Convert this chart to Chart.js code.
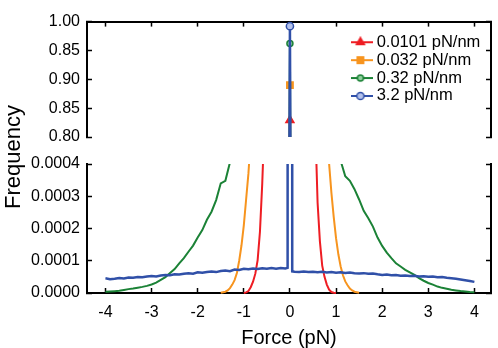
<!DOCTYPE html>
<html>
<head>
<meta charset="utf-8">
<script src="https://cdn.jsdelivr.net/npm/chart.js@4.4.0/dist/chart.umd.min.js"></script>
<style>
  html, body { margin: 0; padding: 0; background: #fff; }
  .wrap { position: relative; width: 498px; height: 348px; }
  .wrap canvas { position: absolute; left: 0; top: 0; }
  .ytitle {
    position: absolute; left: -59px; top: 146px; width: 140px; height: 22px;
    line-height: 22px; text-align: center; transform: rotate(-90deg);
    font: 22px 'Liberation Sans', Arial, sans-serif; color: #000;
  }
</style>
</head>
<body>
<div class="wrap">
  <canvas id="lowChart" width="498" height="348"></canvas>
  <canvas id="topChart" width="498" height="348"></canvas>
  <div class="ytitle">Frequency</div>
</div>
<script>
// series labels and colours
const seriesNames = ['0.0101 pN/nm', '0.032 pN/nm', '0.32 pN/nm', '3.2 pN/nm']
const seriesColors = ['#ee1d23', '#f7941e', '#1b8236', '#3050a8']

// tick labels
const forceTicks = [-4, -3, -2, -1, 0, 1, 2, 3, 4]
const topTicks = [0.80, 0.85, 0.90, 0.95, 1.00]
const topTickLabels = ['0.80', '0.85', '0.90', '0.85', '1.00']
const lowTicks = [0, 0.0001, 0.0002, 0.0003, 0.0004]

// 0.0101 pN/nm
const redForce = [-1, -0.95, -0.9, -0.85, -0.8, -0.75, -0.7, -0.65, -0.6, -0.55, -0.5,
  -0.4, -0.3, -0.2, -0.1, -0.05, 0, 0.05, 0.1, 0.2, 0.3, 0.4, 0.5,
  0.55, 0.6, 0.65, 0.7, 0.75, 0.8, 0.85, 0.9, 0.95, 1]
const redFreq = [0, 0.000002, 0.000006, 0.000018, 0.000035, 0.000060, 0.000102, 0.00019, 0.00034, 0.00054, 0.0009,
  0.0024, 0.0058, 0.012, 0.022, 0.028, 0.829, 0.027, 0.021, 0.0115, 0.0056, 0.0023, 0.0009,
  0.00052, 0.00028, 0.00016, 0.000085, 0.00005, 0.000026, 0.00001, 0.000003, 0.000001, 0]

// 0.032 pN/nm
const orangeForce = [-1.5, -1.4, -1.35, -1.3, -1.25, -1.2, -1.15, -1.1, -1.05, -1,
  -0.95, -0.9, -0.85, -0.8, -0.75, -0.7, -0.6, -0.5, -0.4, -0.3, -0.2, -0.1, -0.05,
  0, 0.05, 0.1, 0.2, 0.3, 0.4, 0.5, 0.6, 0.7, 0.75, 0.8, 0.85, 0.9, 0.95, 1,
  1.05, 1.1, 1.15, 1.2, 1.25, 1.3, 1.35, 1.4, 1.5]
const orangeFreq = [0.000001, 0.000004, 0.000008, 0.000015, 0.000026, 0.000040, 0.000062, 0.000100, 0.000148, 0.000210,
  0.000290, 0.000370, 0.00048, 0.00062, 0.0008, 0.001, 0.0016, 0.0025, 0.0038, 0.0055, 0.0075, 0.0095, 0.0105,
  0.89, 0.0104, 0.0094, 0.0074, 0.0054, 0.0037, 0.0024, 0.0015, 0.00095, 0.00075, 0.00056, 0.00040, 0.00031, 0.000235, 0.000170,
  0.000120, 0.000082, 0.000055, 0.000036, 0.000024, 0.000014, 0.000008, 0.000004, 0.000001]

// shared bins for 0.32 and 3.2 pN/nm
const wideForce = [-4, -3.9, -3.8, -3.7, -3.6, -3.5, -3.4, -3.3, -3.2, -3.1,
  -3, -2.9, -2.8, -2.7, -2.6, -2.5, -2.4, -2.3, -2.2, -2.1,
  -2, -1.9, -1.8, -1.7, -1.6, -1.5, -1.4, -1.3, -1.2, -1.1,
  -1, -0.9, -0.8, -0.7, -0.6, -0.5, -0.4, -0.3, -0.2, -0.1,
  -0.05, 0, 0.05,
  0.1, 0.2, 0.3, 0.4, 0.5, 0.6, 0.7, 0.8, 0.9, 1,
  1.1, 1.2, 1.3, 1.4, 1.5, 1.6, 1.7, 1.8, 1.9, 2,
  2.1, 2.2, 2.3, 2.4, 2.5, 2.6, 2.7, 2.8, 2.9, 3,
  3.1, 3.2, 3.3, 3.4, 3.5, 3.6, 3.7, 3.8, 3.9, 4]

// 0.32 pN/nm
const greenFreq = [0.0000035, 0.0000045, 0.0000058, 0.0000072, 0.0000095, 0.000012, 0.000014, 0.0000165, 0.000019, 0.000022,
  0.0000265, 0.000032, 0.0000405, 0.000049, 0.000062, 0.000074, 0.000092, 0.000108, 0.000128, 0.000147,
  0.000172, 0.000195, 0.000227, 0.000252, 0.000288, 0.00034, 0.000348, 0.000405, 0.00046, 0.00054,
  0.00063, 0.00075, 0.0009, 0.0011, 0.00135, 0.00165, 0.002, 0.0025, 0.0031, 0.0038,
  0.0042, 0.962, 0.0041,
  0.0036, 0.0029, 0.0023, 0.0018, 0.0014, 0.0011, 0.00088, 0.00071, 0.00058, 0.00048,
  0.00041, 0.000362, 0.000348, 0.000322, 0.00029, 0.000255, 0.000232, 0.000206, 0.000172, 0.000146,
  0.000125, 0.000108, 0.000092, 0.000082, 0.000072, 0.000064, 0.000056, 0.000046, 0.000038, 0.000031,
  0.000026, 0.00002, 0.000016, 0.000013, 0.00001, 0.000008, 0.000006, 0.0000045, 0.000003, 0.000002]

// 3.2 pN/nm
const blueFreq = [0.0000455, 0.000043, 0.000044, 0.0000462, 0.000045, 0.0000478, 0.000047, 0.0000495, 0.0000488, 0.000051,
  0.0000527, 0.0000515, 0.0000545, 0.000056, 0.0000548, 0.000058, 0.0000572, 0.00006, 0.0000612, 0.0000598,
  0.000064, 0.0000628, 0.0000652, 0.0000665, 0.0000648, 0.000068, 0.0000695, 0.0000678, 0.0000725, 0.0000715,
  0.0000748, 0.0000735, 0.0000758, 0.0000742, 0.0000765, 0.000075, 0.0000772, 0.0000755, 0.0000778, 0.0000762,
  0.000078, 0.992, 0.0000672,
  0.000066, 0.0000648, 0.0000664, 0.000065, 0.0000662, 0.0000646, 0.0000655, 0.0000638, 0.0000648, 0.000063,
  0.000064, 0.0000622, 0.0000632, 0.0000612, 0.0000605, 0.0000616, 0.0000595, 0.0000602, 0.000058, 0.0000562,
  0.0000572, 0.000055, 0.0000558, 0.0000538, 0.0000545, 0.0000528, 0.0000535, 0.0000515, 0.0000522, 0.0000505,
  0.0000512, 0.000049, 0.0000495, 0.000047, 0.0000458, 0.0000445, 0.000042, 0.0000398, 0.0000372, 0.0000345]


Chart.defaults.font.family = "'Liberation Sans', Arial, sans-serif"
Chart.defaults.color = '#000'

const pointLook = [
    { style: 'triangle', radius: 4.6, fill: seriesColors[0] },
    { style: 'rect', radius: 4.5, fill: seriesColors[1] },
    { style: 'circle', radius: 3, fill: '#8fcf9d' },
    { style: 'circle', radius: 3.6, fill: '#b4c2ec' }
]
const lineWidths = [2, 2, 2, 2.5]
const drawOrder = [3, 2, 1, 0]

function pts(xs, ys) {
    return xs.map((x, i) => ({ x: x, y: ys[i] }))
}

function makeSets(withMarkers) {
    const src = [[redForce, redFreq], [orangeForce, orangeFreq], [wideForce, greenFreq], [wideForce, blueFreq]]
    return src.map((s, i) => ({
        label: seriesNames[i],
        data: pts(s[0], s[1]),
        borderColor: seriesColors[i],
        backgroundColor: seriesColors[i],
        borderWidth: lineWidths[i],
        tension: 0,
        order: drawOrder[i],
        pointStyle: pointLook[i].style,
        pointBackgroundColor: pointLook[i].fill,
        pointBorderColor: seriesColors[i],
        pointBorderWidth: 1.5,
        pointRadius: c => (withMarkers && c.raw && c.raw.x === 0 ? pointLook[i].radius : 0),
        clip: withMarkers ? { left: 0, right: 0, top: 6, bottom: 0 } : { left: 0, right: 0, top: 0, bottom: 1 }
    }))
}

// small line + marker picture for each legend entry
function legendIcon(i) {
    const c = document.createElement('canvas')
    c.width = 26
    c.height = 12
    const g = c.getContext('2d')
    g.strokeStyle = seriesColors[i]
    g.lineWidth = 2
    g.beginPath()
    g.moveTo(0, 6)
    g.lineTo(26, 6)
    g.stroke()
    g.fillStyle = pointLook[i].fill
    g.lineWidth = 1.5
    const r = pointLook[i].radius
    g.beginPath()
    if (pointLook[i].style === 'triangle') {
        g.moveTo(13, 6 - r)
        g.lineTo(13 + r * 0.87, 6 + r * 0.5)
        g.lineTo(13 - r * 0.87, 6 + r * 0.5)
        g.closePath()
    } else if (pointLook[i].style === 'rect') {
        const h = r * 0.707
        g.rect(13 - h, 6 - h, 2 * h, 2 * h)
    } else {
        g.arc(13, 6, r, 0, Math.PI * 2)
    }
    g.fill()
    g.stroke()
    return c
}
const legendIcons = seriesNames.map((n, i) => legendIcon(i))

function inwardGrid() {
    return { display: true, drawOnChartArea: false, drawTicks: true, tickLength: -5, tickColor: '#000', tickWidth: 1.5, color: '#000' }
}
const axisLine = { display: true, color: '#000', width: 2 }

// puts the legend inside the upper panel
const legendSpot = {
    id: 'legendSpot',
    beforeDraw(chart) {
        const lg = chart.legend
        if (!lg) return
        lg.left = 351
        lg.right = 498
        lg.width = 147
        lg.top = 32.6
        lg.bottom = 136
        lg.height = lg.bottom - lg.top
    }
}

new Chart(document.getElementById('topChart'), {
    type: 'line',
    data: { datasets: makeSets(true) },
    options: {
        responsive: false,
        animation: false,
        events: [],
        devicePixelRatio: 1,
        layout: { padding: { top: 0, bottom: 211, left: 0, right: 0 } },
        plugins: {
            tooltip: { enabled: false },
            legend: {
                display: true,
                position: 'chartArea',
                align: 'start',
                labels: {
                    usePointStyle: true,
                    pointStyleWidth: 16,
                    padding: 1.4,
                    color: '#000',
                    font: { size: 16.5 },
                    sort: (a, b) => a.datasetIndex - b.datasetIndex,
                    generateLabels: chart => {
                        const items = Chart.defaults.plugins.legend.labels.generateLabels(chart)
                        items.forEach(it => { it.pointStyle = legendIcons[it.datasetIndex] })
                        return items
                    }
                }
            }
        },
        scales: {
            x: {
                type: 'linear', position: 'top', min: -4.4, max: 4.36,
                afterBuildTicks: s => { s.ticks = forceTicks.map(v => ({ value: v })) },
                afterFit: s => { s.height = 9 },
                ticks: { display: false },
                grid: inwardGrid(),
                border: axisLine
            },
            y: {
                type: 'linear', position: 'left', min: 0.80, max: 1.00,
                afterBuildTicks: s => { s.ticks = topTicks.map(v => ({ value: v })) },
                afterFit: s => { s.width = 87 },
                ticks: { padding: 12, font: { size: 16 }, callback: (v, i) => topTickLabels[i] },
                grid: inwardGrid(),
                border: axisLine
            },
            y2: {
                type: 'linear', position: 'right', min: 0.80, max: 1.00,
                afterBuildTicks: s => { s.ticks = topTicks.map(v => ({ value: v })) },
                afterFit: s => { s.width = 7 },
                ticks: { display: false },
                grid: inwardGrid(),
                border: axisLine
            }
        }
    },
    plugins: [legendSpot]
})

new Chart(document.getElementById('lowChart'), {
    type: 'line',
    data: { datasets: makeSets(false) },
    options: {
        responsive: false,
        animation: false,
        events: [],
        devicePixelRatio: 1,
        layout: { padding: { top: 164, bottom: 0, left: 0, right: 0 } },
        plugins: { tooltip: { enabled: false }, legend: { display: false } },
        scales: {
            x: {
                type: 'linear', position: 'bottom', min: -4.4, max: 4.36,
                afterBuildTicks: s => { s.ticks = forceTicks.map(v => ({ value: v })) },
                afterFit: s => { s.height = 55 },
                ticks: { padding: 15.4, font: { size: 16 }, maxRotation: 0 },
                grid: inwardGrid(),
                border: axisLine,
                title: { display: true, text: 'Force (pN)', font: { size: 20 }, padding: { top: 0, bottom: -2 } }
            },
            y: {
                type: 'linear', position: 'left', min: 0, max: 0.0004,
                afterBuildTicks: s => { s.ticks = lowTicks.map(v => ({ value: v })) },
                afterFit: s => { s.width = 87 },
                ticks: { padding: 12, font: { size: 16 }, callback: v => v.toFixed(4) },
                grid: inwardGrid(),
                border: axisLine
            },
            y2: {
                type: 'linear', position: 'right', min: 0, max: 0.0004,
                afterBuildTicks: s => { s.ticks = lowTicks.map(v => ({ value: v })) },
                afterFit: s => { s.width = 7 },
                ticks: { display: false },
                grid: inwardGrid(),
                border: axisLine
            }
        }
    }
})
</script>
</body>
</html>
